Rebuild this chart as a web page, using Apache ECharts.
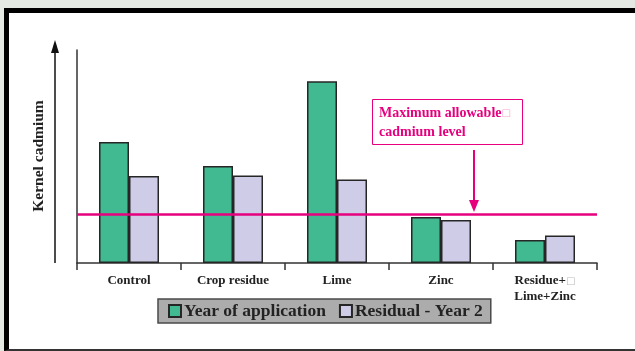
<!DOCTYPE html>
<html>
<head>
<meta charset="utf-8">
<script src="https://cdn.jsdelivr.net/npm/echarts@6/dist/echarts.min.js"></script>
<style>
  html, body { margin: 0; padding: 0; width: 635px; height: 351px; overflow: hidden; background: #e4e9e3; }
  #frame { position: absolute; left: 4px; top: 8px; width: 631px; height: 343px; box-sizing: border-box;
           background: #fff; border-left: 5px solid #000; border-top: 5px solid #000; border-bottom: 2px solid #333; }
  #chart { position: absolute; left: 0; top: 0; width: 635px; height: 351px; }
</style>
</head>
<body>
<div id="frame"></div>
<div id="chart"></div>
<script>
// Treatments along the x axis
const categories = ['Control', 'Crop residue', 'Lime', 'Zinc', 'Residue+\u25A1\nLime+Zinc'];
// Kernel cadmium (relative units, axis 0–100)
const yearOfApplication = [56.8, 45.5, 85.3, 21.6, 10.8];
const residualYear2 = [40.8, 41.1, 39.2, 20.2, 12.9];
// Maximum allowable cadmium level
const maxAllowable = 23.0;
const seriesNames = ['Year of application', 'Residual - Year 2'];

const SERIF = '"Liberation Serif", "Times New Roman", "DejaVu Serif", serif';
const PINK = '#e6007e';
const INK = '#222';

const chart = echarts.init(document.getElementById('chart'), null, { renderer: 'canvas' });

const option = {
  backgroundColor: 'transparent',
  animation: false,
  grid: { left: 77, top: 50, right: 38, bottom: 88 },
  legend: {
    left: 158, top: 299,
    data: seriesNames,
    icon: 'rect',
    itemWidth: 12, itemHeight: 12, itemGap: 13,
    padding: [3, 8, 3, 10],
    backgroundColor: '#acacac',
    borderColor: '#4a4a4a', borderWidth: 1.5, borderRadius: 0,
    selectedMode: false,
    textStyle: { fontFamily: SERIF, fontWeight: 'bold', fontSize: 17.5, color: INK, padding: [0, 0, 0, -2] }
  },
  xAxis: {
    type: 'category',
    data: categories,
    boundaryGap: true,
    axisLine: { lineStyle: { color: '#333', width: 1.5 } },
    axisTick: { show: true, inside: false, length: 7, lineStyle: { color: '#333', width: 1.5 } },
    axisLabel: {
      interval: 0, margin: 10,
      fontFamily: SERIF, fontWeight: 'bold', fontSize: 13, color: INK, lineHeight: 16,
      formatter: v => v.replace('\u25A1', '{box|\u25A1}'),
      rich: { box: { fontFamily: 'DejaVu Sans', fontSize: 10, color: '#bbb', fontWeight: 'normal' } }
    }
  },
  yAxis: {
    type: 'value',
    min: 0, max: 100,
    axisLine: { show: true, lineStyle: { color: '#333', width: 1.5 } },
    axisTick: { show: false },
    axisLabel: { show: false },
    splitLine: { show: false }
  },
  series: [
    {
      name: seriesNames[0], type: 'bar', data: yearOfApplication,
      barWidth: 30, barGap: '0%', z: 3,
      itemStyle: { color: '#41ba91', borderColor: '#262626', borderWidth: 1.5 }
    },
    {
      name: seriesNames[1], type: 'bar', data: residualYear2,
      barWidth: 30, barGap: '0%', z: 3,
      itemStyle: { color: '#cfcce7', borderColor: '#262626', borderWidth: 1.5 }
    },
    {
      name: 'limit', type: 'line', data: [], z: 1,
      markLine: {
        silent: true, symbol: 'none', label: { show: false },
        lineStyle: { color: PINK, width: 2.5, type: 'solid' },
        data: [{ yAxis: maxAllowable }]
      }
    }
  ]
};
chart.setOption(option);

// Axis title with upward arrow, and the callout pointing at the limit line
const baseY = chart.convertToPixel({ yAxisIndex: 0 }, 0);
const limitY = chart.convertToPixel({ yAxisIndex: 0 }, maxAllowable);
const arrowX = 474;
chart.setOption({
  graphic: [
    { type: 'line', shape: { x1: 55, y1: baseY, x2: 55, y2: 50 }, style: { stroke: '#111', lineWidth: 1.5 } },
    { type: 'polygon', shape: { points: [[55, 40], [51, 53], [59, 53]] }, style: { fill: '#111' } },
    {
      type: 'text', x: 39, y: 156, rotation: Math.PI / 2,
      style: { text: 'Kernel cadmium', fill: INK, font: 'bold 15.5px ' + SERIF, align: 'center', verticalAlign: 'middle' }
    },
    { type: 'rect', shape: { x: 372.5, y: 99.5, width: 150, height: 45 }, style: { fill: 'none', stroke: PINK, lineWidth: 1 } },
    {
      type: 'text', x: 379, y: 104,
      style: {
        text: 'Maximum allowable{box|\u25A1}\ncadmium level', fill: PINK, font: 'bold 14px ' + SERIF,
        lineHeight: 19,
        rich: { box: { font: '10px "DejaVu Sans"', fill: '#f2a6cf' } }
      }
    },
    { type: 'line', shape: { x1: arrowX, y1: 150, x2: arrowX, y2: limitY - 10 }, style: { stroke: PINK, lineWidth: 2 } },
    { type: 'polygon', shape: { points: [[arrowX, limitY - 2], [arrowX - 5, limitY - 14], [arrowX + 5, limitY - 14]] }, style: { fill: PINK } }
  ]
});
</script>
</body>
</html>
